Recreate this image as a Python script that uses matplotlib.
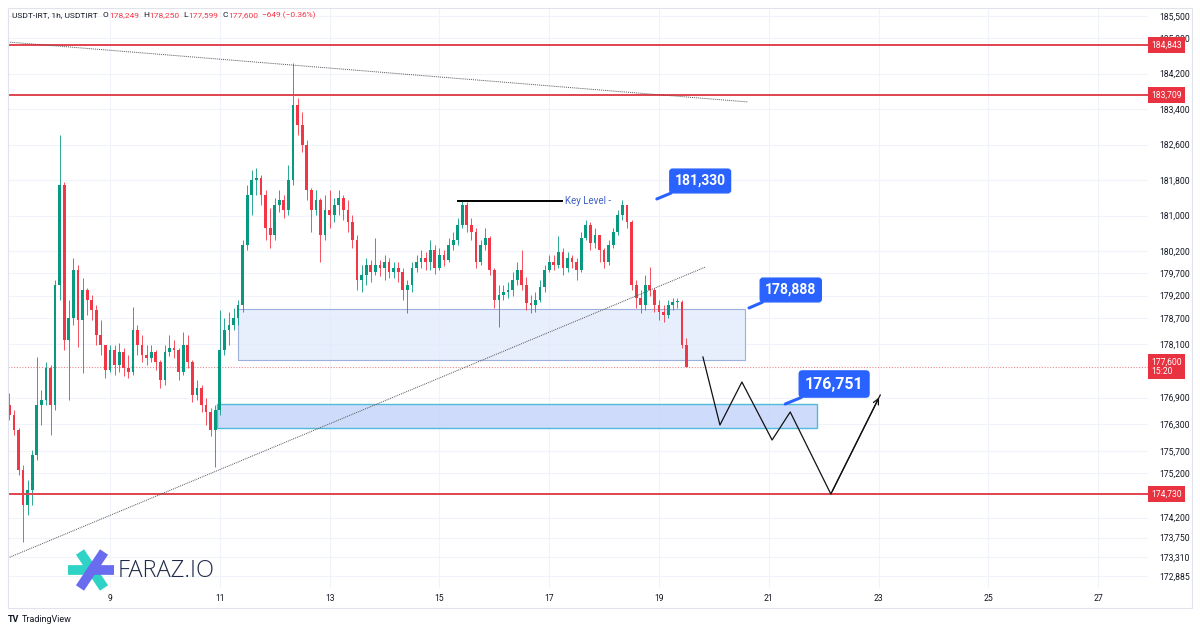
import numpy as np
import matplotlib.pyplot as plt
from matplotlib.patches import Rectangle
from matplotlib.lines import Line2D

plt.rcParams['font.family'] = ['Roboto', 'DejaVu Sans']

# ---- data (2h candles, x in days of month) ----
start_day = 7 + 4 / 24
step = 2 / 24
first_open = 176740

closes = [176510, 176170, 175270, 174480, 174820, 175610, 176740, 176850, 177570, 176740,
          179440, 181690, 178200, 178700, 179780, 178650, 179330, 179100, 178880, 178310,
          178090, 177520, 177970, 177640, 177930, 177570, 177480, 178420, 178090, 177860,
          177790, 177930, 177700, 177300, 177930, 178020, 177970, 177480, 178090, 177700,
          176960, 177120, 176740, 176580, 176170, 176620, 177970, 178420, 178540, 178700,
          178990, 180340, 181460, 181800, 181850, 181460, 180720, 180560, 181240, 181350,
          181130, 181800, 183490, 183040, 182590, 181580, 181130, 181350, 180560, 181130,
          181010, 181240, 181400, 181130, 180860, 180450, 179550, 179660, 179890, 179730,
          179890, 179820, 179960, 179730, 179820, 179730, 179330, 179440, 179820, 179960,
          180050, 179960, 180230, 179820, 180110, 180000, 180340, 180450, 180790, 181240,
          180790, 180630, 179960, 180340, 180500, 179780, 179100, 179210, 179280, 179330,
          179550, 179780, 179440, 179030, 178990, 179100, 179390, 179780, 179960, 179890,
          180180, 179820, 180050, 179960, 179780, 180500, 180790, 180380, 180560, 180230,
          179960, 180340, 180630, 181010, 181240, 180860, 179440, 179150, 178990, 179440,
          179330, 178990, 178830, 178760, 178990, 179060, 179060, 178090, 177600]

highs = [177010, 176620, 176220, 175380, 175050, 175720, 177820, 177070, 177700, 177640,
         179550, 182820, 181760, 179100, 180050, 179890, 179600, 179370, 179210, 178990,
         178650, 178090, 178090, 178090, 178130, 178020, 177860, 178940, 178540, 178310,
         178090, 178090, 177970, 177750, 178090, 178310, 178200, 178020, 178380, 178310,
         177750, 177300, 177190, 176890, 176670, 176740, 178880, 178700, 178830, 178920,
         179100, 180450, 181690, 182030, 182070, 181920, 181580, 181170, 181400, 181580,
         181460, 182140, 184440, 183650, 183330, 182700, 181620, 181580, 181400, 181460,
         181580, 181400, 181580, 181460, 181350, 181010, 180560, 179890, 180050, 180000,
         180500, 180000, 180110, 180050, 179960, 179960, 179820, 179550, 179960, 180110,
         180230, 180180, 180450, 180340, 180270, 180230, 180500, 180630, 180950, 181350,
         181310, 180950, 180720, 180450, 180720, 180540, 179820, 179440, 179440, 179500,
         179730, 179960, 180230, 179620, 179210, 179280, 179550, 179890, 180110, 180110,
         180540, 180270, 180180, 180110, 180050, 180630, 180900, 180860, 180720, 180560,
         180270, 180450, 180720, 181130, 181350, 181240, 180900, 179550, 179330, 179660,
         179840, 179370, 179100, 178990, 179100, 179150, 179150, 179100, 178250]

lows = [176400, 176060, 175160, 173650, 174260, 174480, 175500, 176290, 176740, 176060,
        176620, 179100, 177970, 176850, 178540, 178040, 177460, 178760, 178650, 178090,
        177860, 177340, 177480, 177410, 177480, 177390, 177340, 177410, 177860, 177700,
        177640, 177700, 177520, 177120, 177190, 177840, 177790, 177300, 177410, 177570,
        176800, 176850, 176580, 176290, 176040, 175340, 176510, 177860, 178090, 178420,
        178540, 178830, 180230, 181010, 181460, 181240, 180450, 180270, 180450, 181080,
        180950, 181010, 181690, 182820, 182430, 181350, 180630, 181010, 179960, 180450,
        180720, 180860, 181010, 180900, 180630, 180270, 179330, 179280, 179440, 179500,
        179660, 179640, 179550, 179600, 179600, 179500, 179100, 178810, 179280, 179730,
        179820, 179780, 179780, 179690, 179780, 179870, 179960, 180230, 180340, 180720,
        180630, 180450, 179820, 179890, 180230, 179660, 178920, 178490, 179100, 179150,
        179190, 179440, 179330, 178880, 178810, 178830, 179060, 179280, 179730, 179780,
        179820, 179660, 179730, 179820, 179550, 179730, 180450, 180230, 180270, 179960,
        179820, 179890, 180270, 180560, 180900, 180720, 179330, 178920, 178810, 178880,
        179190, 178830, 178650, 178600, 178700, 178880, 178920, 178020, 177599]

y_ticks = [185500, 185000, 184200, 183400, 182600, 181800, 181000, 180200, 179700,
           179200, 178700, 178100, 176900, 176300, 175700, 175200, 174200, 173750,
           173310, 172885]
x_ticks = [9, 11, 13, 15, 17, 19, 21, 23, 25, 27]

red_levels = [184843, 183709, 174730]
last_price = 177600

# drawings (day, price)
trend_down = ([7.14, 20.62], [184910, 183560])
trend_up = ([7.14, 19.84], [173290, 179840])
zone_upper = (11.33, 20.57, 177750, 178888)
zone_lower = (10.95, 21.88, 176217, 176751)
key_level = ([15.34, 17.23], 181330)
path_days = [19.80, 20.11, 20.51, 21.06, 21.39, 22.13, 23.03]
path_prices = [177817, 176285, 177253, 175947, 176578, 174730, 176960]
callouts = [("181,330", 19.75, 181780, 18.96, 181375, 10),
            ("178,888", 21.40, 179325, 20.64, 178920, 10),
            ("176,751", 22.19, 177208, 21.30, 176758, 11.5)]

GREEN = '#089981'
RED = '#f23645'
BLUE = '#2962ff'

fig = plt.figure(figsize=(12, 6.3), dpi=100)
fig.patch.set_facecolor('white')
ax = fig.add_axes([8 / 1200, 42 / 630, 1140 / 1200, 580 / 630])
ax.set_xlim(7.142, 27.907)
ax.set_ylim(172614, 185676)

# grid
ax.set_yticks(y_ticks)
ax.set_yticklabels([f"{v:,}" for v in y_ticks])
ax.set_xticks(x_ticks)
ax.set_xticklabels([str(v) for v in x_ticks])
ax.grid(color='#f0f3fa', lw=0.8)
ax.yaxis.tick_right()
ax.tick_params(axis='y', length=0, labelsize=6.2, colors='#131722', pad=8)
ax.tick_params(axis='x', length=0, labelsize=6.2, colors='#131722', pad=4)
for s in ax.spines.values():
    s.set_visible(False)

# candles
closes = np.array(closes)
opens = np.concatenate([[first_open], closes[:-1]])
highs = np.array(highs)
lows = np.array(lows)
t = start_day + step * np.arange(len(closes))
up = closes >= opens
cols = np.where(up, GREEN, RED)
ax.vlines(t, lows, highs, colors=cols, lw=0.6, zorder=3)
body_h = np.abs(closes - opens)
body_h = np.maximum(body_h, 15)
ax.bar(t, body_h, bottom=np.minimum(opens, closes), width=step * 0.6,
       color=cols, zorder=4, linewidth=0)

# zones
x0, x1, b, tp = zone_upper
ax.add_patch(Rectangle((x0, b), x1 - x0, tp - b, facecolor='#e3ebfc',
                       edgecolor='#8ea3d8', lw=0.8, alpha=0.85, zorder=2))
x0, x1, b, tp = zone_lower
ax.add_patch(Rectangle((x0, b), x1 - x0, tp - b, facecolor='#c9d8fa',
                       edgecolor='#3fb6d8', lw=1.0, alpha=0.9, zorder=2))

# levels
for lv in red_levels:
    ax.axhline(lv, color='#e0444f', lw=1.4, zorder=5)
ax.axhline(last_price, color='#e88a92', lw=0.8, ls=(0, (1, 1.5)), zorder=2)

# trend lines
ax.plot(*trend_down, color='#555555', lw=0.7, ls=(0, (1, 1)), zorder=5)
ax.plot(*trend_up, color='#555555', lw=0.7, ls=(0, (1, 1)), zorder=5)

# key level
ax.plot(key_level[0], [key_level[1]] * 2, color='black', lw=1.4, zorder=5)
ax.text(key_level[0][1] + 0.06, key_level[1], "Key Level -", color='#3d5fc4',
        fontsize=7, va='center', ha='left', zorder=6)

# projected path
ax.plot(path_days, path_prices, color='#111111', lw=0.9, zorder=6)
ax.annotate('', xy=(path_days[-1], path_prices[-1]),
            xytext=(path_days[-2], path_prices[-2]),
            arrowprops=dict(arrowstyle='->', color='#111111', lw=0.9,
                            mutation_scale=10), zorder=6)

# callouts
for txt, tx, ty, px, py, fs in callouts:
    ax.annotate(txt, xy=(px, py), xytext=(tx, ty), color='white',
                fontsize=fs, fontweight='bold', ha='center', va='center',
                bbox=dict(boxstyle='round,pad=0.35,rounding_size=0.2',
                          fc=BLUE, ec=BLUE),
                arrowprops=dict(arrowstyle='-', color=BLUE, lw=2.2,
                                shrinkA=0, shrinkB=0), zorder=7)

# right side price tags
ytr = ax.get_yaxis_transform()
for lv in red_levels:
    ax.text(1.003, lv, f"{lv:,}", transform=ytr, color='white', fontsize=6.2,
            va='center', ha='left', zorder=8,
            bbox=dict(boxstyle='square,pad=0.4', fc='#e8323f', ec='none'))
ax.text(1.003, last_price, f"{last_price:,}\n15:20", transform=ytr,
        color='white', fontsize=6.2, va='center', ha='left', linespacing=1.0,
        zorder=8, bbox=dict(boxstyle='square,pad=0.4', fc='#e8323f', ec='none'))

# outer frame
fig.add_artist(Rectangle((8 / 1200, 1 - 608 / 630), 1184 / 1200, 600 / 630,
                         transform=fig.transFigure, fill=False,
                         ec='#e0e3eb', lw=0.8))

# header, laid out piece by piece
renderer = fig.canvas.get_renderer()
hy = 1 - 15 / 630
parts = [("USDT-IRT, 1h, USDTIRT", '#131722', 5), ("O", '#131722', 0.5),
         ("178,249", RED, 4), ("H", '#131722', 0.5), ("178,250", RED, 4),
         ("L", '#131722', 0.5), ("177,599", RED, 4), ("C", '#131722', 0.5),
         ("177,600", RED, 4), ("\u2212649 (\u22120.36%)", RED, 0)]
px = 12
for s, c, gap in parts:
    tx = fig.text(px / 1200, hy, s, fontsize=6, color=c, va='center')
    px += tx.get_window_extent(renderer).width + gap

# FARAZ.IO logo
def fl(x0, y0, x1, y1, c, lw):
    fig.add_artist(Line2D([x0 / 1200, x1 / 1200], [1 - y0 / 630, 1 - y1 / 630],
                          color=c, lw=lw, solid_capstyle='butt',
                          transform=fig.transFigure))
fl(80, 552, 104, 588, '#2ed3c6', 7)
fl(68, 570, 92, 570, '#2ed3c6', 7)
fl(104, 552, 80, 588, '#6a6cf0', 7)
fl(92, 570, 114, 570, '#6a6cf0', 7)
fig.text(118 / 1200, 1 - 571 / 630, "FARAZ.IO", fontsize=17, color='#1f2a48',
         va='center', ha='left', family='Open Sans', fontweight='light')

# TradingView footer
fig.text(8 / 1200, 1 - 619 / 630, "TV", fontsize=6.5, fontweight='bold',
         color='#131722', va='center')
fig.text(22 / 1200, 1 - 619 / 630, "TradingView", fontsize=6.5,
         color='#131722', va='center')

fig.savefig('out.png', dpi=100)
